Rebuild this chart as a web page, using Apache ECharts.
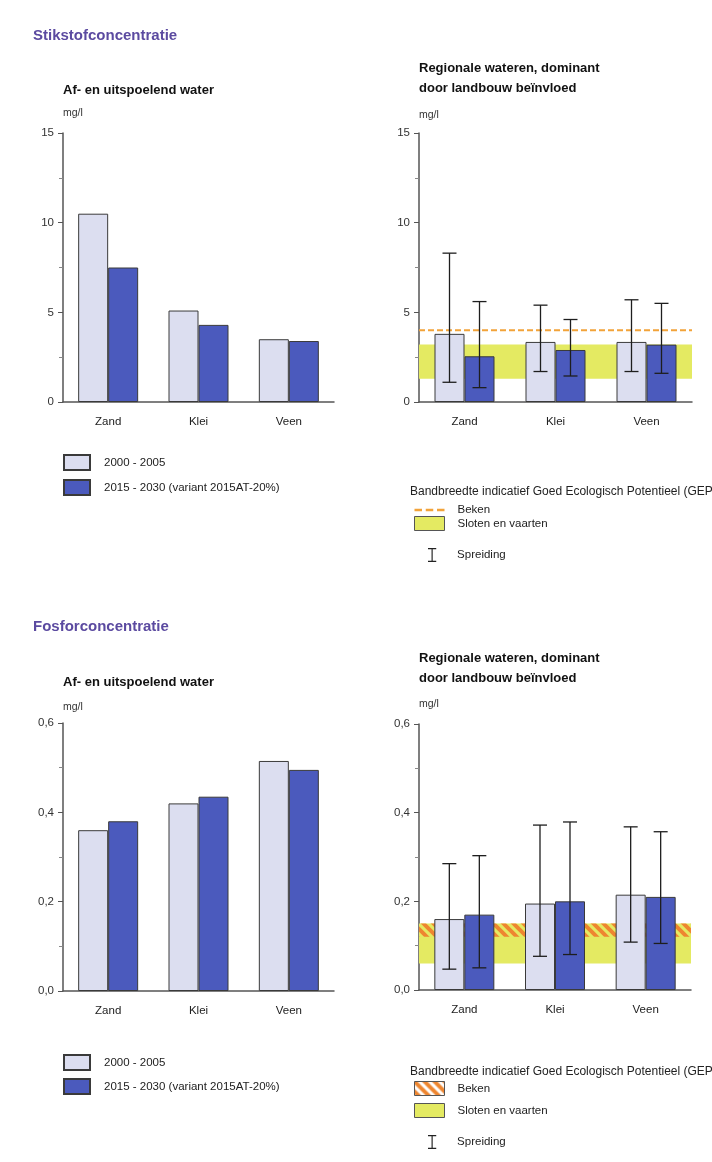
<!DOCTYPE html>
<html><head><meta charset="utf-8">
<script src="https://cdn.jsdelivr.net/npm/echarts@6/dist/echarts.min.js"></script>
<style>html,body{margin:0;padding:0;background:#fff}#c{width:712px;height:1162px}</style>
</head><body><div id="c"></div>
<script>
// ---------- data ----------
const categories = ['Zand', 'Klei', 'Veen'];
const seriesNames = ['2000 - 2005', '2015 - 2030 (variant 2015AT-20%)'];

// Stikstof (mg/l)
const nAfUit2000 = [10.5, 5.1, 3.5];
const nAfUit2015 = [7.5, 4.3, 3.4];
const nReg2000 = [3.8, 3.35, 3.35];
const nReg2015 = [2.55, 2.9, 3.2];
const nRegSpread2000 = [[1.1, 8.3], [1.7, 5.4], [1.7, 5.7]];
const nRegSpread2015 = [[0.8, 5.6], [1.45, 4.6], [1.6, 5.5]];
const nBekenLine = [4.0];
const nSlotenBand = [1.3, 3.2];
const nTicks = [0, 5, 10, 15];
const nTickLabels = ['0', '5', '10', '15'];

// Fosfor (mg/l)
const pAfUit2000 = [0.36, 0.42, 0.515];
const pAfUit2015 = [0.38, 0.435, 0.495];
const pReg2000 = [0.16, 0.195, 0.215];
const pReg2015 = [0.17, 0.2, 0.21];
const pRegSpread2000 = [[0.047, 0.285], [0.076, 0.372], [0.108, 0.368]];
const pRegSpread2015 = [[0.05, 0.303], [0.08, 0.379], [0.105, 0.357]];
const pBekenBand = [0.12, 0.15];
const pSlotenBand = [0.06, 0.15];
const pTicks = [0, 0.2, 0.4, 0.6];
const pTickLabels = ['0,0', '0,2', '0,4', '0,6'];

// ---------- styles ----------
const LIGHT = '#dcdef0';
const DARK = '#4b5abd';
const BORDER = '#3a3a3a';
const YELLOW = '#e4ea62';
const ORANGE = '#f2a33a';
const BAR_W = 30;
const CAP_W = 14;
const FONT = '"Liberation Sans", Arial, sans-serif';

function makeHatch() {
  const c = document.createElement('canvas');
  c.width = 10; c.height = 10;
  const g = c.getContext('2d');
  g.strokeStyle = '#ee8630';
  g.lineWidth = 4;
  g.beginPath();
  g.moveTo(-2, -2); g.lineTo(12, 12);
  g.moveTo(-7, 3); g.lineTo(7, 17);
  g.moveTo(3, -7); g.lineTo(17, 7);
  g.stroke();
  return c;
}
const hatch = { image: makeHatch(), repeat: 'repeat' };

function tickFmt(ticks, labels) {
  return function (v) {
    for (let i = 0; i < ticks.length; i++) if (Math.abs(ticks[i] - v) < 1e-9) return labels[i];
    return '';
  };
}

const grids = [
  { left: 63, top: 133, width: 271, height: 269 },
  { left: 419, top: 133, width: 273, height: 269 },
  { left: 63, top: 723, width: 271, height: 268 },
  { left: 419, top: 724, width: 272, height: 266 }
];
const axisTicks = [nTicks, nTicks, pTicks, pTicks];
const axisLabels = [nTickLabels, nTickLabels, pTickLabels, pTickLabels];
const nameGaps = [14, 12, 10, 14];

const xAxes = grids.map((g, i) => ({
  type: 'category', gridIndex: i, data: categories,
  axisTick: { show: false },
  axisLine: { lineStyle: { color: '#555', width: 1.5 } },
  axisLabel: { color: '#222', fontSize: 11.5, margin: 14, fontFamily: FONT }
}));
const yAxes = grids.map((g, i) => {
  const t = axisTicks[i];
  return {
    type: 'value', gridIndex: i,
    min: t[0], max: t[t.length - 1], interval: t[1] - t[0],
    name: 'mg/l', nameLocation: 'end', nameGap: nameGaps[i],
    nameTextStyle: { align: 'left', fontSize: 10.5, color: '#333', fontFamily: FONT },
    axisLine: { show: true, lineStyle: { color: '#555', width: 1.5 } },
    axisTick: { show: true, length: 5, lineStyle: { color: '#555' } },
    minorTick: { show: true, splitNumber: 2, length: 4, lineStyle: { color: '#888' } },
    splitLine: { show: false },
    axisLabel: { color: '#333', fontSize: 11.5, margin: 9, fontFamily: FONT, formatter: tickFmt(t, axisLabels[i]) }
  };
});

function barPair(i, a, b) {
  return [
    { name: seriesNames[0], type: 'bar', xAxisIndex: i, yAxisIndex: i, data: a, barWidth: BAR_W, barGap: '0%', z: 3,
      itemStyle: { color: LIGHT, borderColor: BORDER, borderWidth: 1 } },
    { name: seriesNames[1], type: 'bar', xAxisIndex: i, yAxisIndex: i, data: b, barWidth: BAR_W, barGap: '0%', z: 3,
      itemStyle: { color: DARK, borderColor: BORDER, borderWidth: 1 } }
  ];
}

function spreadRows(s0, s1) {
  const rows = [];
  s0.forEach((r, c) => rows.push([c, r[0], r[1], 0]));
  s1.forEach((r, c) => rows.push([c, r[0], r[1], 1]));
  return rows;
}
function renderSpread(params, api) {
  const cat = api.value(0), lo = api.value(1), hi = api.value(2), k = api.value(3);
  const pLo = api.coord([cat, lo]);
  const pHi = api.coord([cat, hi]);
  const x = pLo[0] + (k - 0.5) * BAR_W;
  const h = CAP_W / 2;
  const st = { stroke: '#1e1e1e', lineWidth: 1.3 };
  return { type: 'group', children: [
    { type: 'line', shape: { x1: x, y1: pHi[1], x2: x, y2: pLo[1] }, style: st },
    { type: 'line', shape: { x1: x - h, y1: pHi[1], x2: x + h, y2: pHi[1] }, style: st },
    { type: 'line', shape: { x1: x - h, y1: pLo[1], x2: x + h, y2: pLo[1] }, style: st }
  ] };
}
function spreadSeries(i, s0, s1) {
  return { name: 'Spreiding', type: 'custom', xAxisIndex: i, yAxisIndex: i, z: 5,
    data: spreadRows(s0, s1), encode: { x: 0, y: [1, 2] }, renderItem: renderSpread,
    itemStyle: { color: '#1e1e1e' } };
}
function bandSeries(i, name, band, fill, z) {
  return { name: name, type: 'custom', xAxisIndex: i, yAxisIndex: i, z: z, silent: true,
    data: [[0, band[0], band[1]]], encode: { x: 0, y: [1, 2] },
    itemStyle: { color: fill === hatch ? ORANGE : fill },
    renderItem: function (params, api) {
      const cs = params.coordSys;
      const y0 = api.coord([0, api.value(1)])[1];
      const y1 = api.coord([0, api.value(2)])[1];
      return { type: 'rect', shape: { x: cs.x, y: y1, width: cs.width, height: y0 - y1 }, style: { fill: fill } };
    } };
}
function lineSeries(i, name, vals) {
  return { name: name, type: 'custom', xAxisIndex: i, yAxisIndex: i, z: 2, silent: true,
    data: vals.map(v => [0, v]), encode: { x: 0, y: 1 }, itemStyle: { color: ORANGE },
    renderItem: function (params, api) {
      const cs = params.coordSys;
      const y = api.coord([0, api.value(1)])[1];
      return { type: 'line', shape: { x1: cs.x, y1: y, x2: cs.x + cs.width, y2: y },
        style: { stroke: ORANGE, lineWidth: 2, lineDash: [6, 3] } };
    } };
}

const series = [].concat(
  barPair(0, nAfUit2000, nAfUit2015),
  [bandSeries(1, 'Sloten en vaarten', nSlotenBand, YELLOW, 1), lineSeries(1, 'Beken', nBekenLine)],
  barPair(1, nReg2000, nReg2015),
  [spreadSeries(1, nRegSpread2000, nRegSpread2015)],
  barPair(2, pAfUit2000, pAfUit2015),
  [bandSeries(3, 'Sloten en vaarten', pSlotenBand, YELLOW, 1), bandSeries(3, 'Beken', pBekenBand, hatch, 2)],
  barPair(3, pReg2000, pReg2015),
  [spreadSeries(3, pRegSpread2000, pRegSpread2015)]
);

const dashIcon = 'path://M0,0h6v2h-6zM9,0h6v2h-6zM18,0h6v2h-6z';
const iIcon = 'path://M0,0h10v1.5h-4.3v14h4.3v1.5h-10v-1.5h4.3v-14h-4.3z';
const legText = { fontSize: 11.5, color: '#222', fontFamily: FONT };

function barLegend(top, gap) {
  return { data: seriesNames, left: 63, top: top, orient: 'vertical', icon: 'rect', padding: 0,
    itemWidth: 26, itemHeight: 15, itemGap: gap, textStyle: Object.assign({ padding: [0, 0, 0, 9] }, legText) };
}
function gepLegend(top, gap, bekenItem) {
  return { data: [bekenItem, { name: 'Sloten en vaarten', icon: 'rect', itemStyle: { color: YELLOW, borderColor: '#555', borderWidth: 1 } }],
    left: 414, top: top, orient: 'vertical', padding: 0, itemWidth: 30, itemHeight: 14, itemGap: gap,
    textStyle: Object.assign({ padding: [0, 0, 0, 8] }, legText) };
}
function spreadLegend(top) {
  return { data: [{ name: 'Spreiding', icon: iIcon, itemStyle: { color: '#222', borderWidth: 0 } }],
    left: 428, top: top, orient: 'vertical', padding: 0, itemWidth: 10, itemHeight: 14,
    textStyle: Object.assign({ padding: [0, 0, 0, 15] }, legText) };
}

const heading = { color: '#5b4aa0', fontSize: 15, fontWeight: 'bold', fontFamily: FONT };
const sub = { color: '#111', fontSize: 13, fontWeight: 'bold', fontFamily: FONT, lineHeight: 20 };
const gepT = { color: '#222', fontSize: 12, fontWeight: 'normal', fontFamily: FONT };

const option = {
  animation: false,
  backgroundColor: '#fff',
  textStyle: { fontFamily: FONT },
  title: [
    { text: 'Stikstofconcentratie', left: 33, top: 28, padding: 0, textStyle: heading },
    { text: 'Af- en uitspoelend water', left: 63, top: 80, padding: 0, textStyle: sub },
    { text: 'Regionale wateren, dominant\ndoor landbouw beïnvloed', left: 419, top: 58, padding: 0, textStyle: sub },
    { text: 'Bandbreedte indicatief Goed Ecologisch Potentieel (GEP)', left: 410, top: 486, padding: 0, textStyle: gepT },
    { text: 'Fosforconcentratie', left: 33, top: 619, padding: 0, textStyle: heading },
    { text: 'Af- en uitspoelend water', left: 63, top: 672, padding: 0, textStyle: sub },
    { text: 'Regionale wateren, dominant\ndoor landbouw beïnvloed', left: 419, top: 648, padding: 0, textStyle: sub },
    { text: 'Bandbreedte indicatief Goed Ecologisch Potentieel (GEP)', left: 410, top: 1066, padding: 0, textStyle: gepT }
  ],
  legend: [
    barLegend(454, 8),
    barLegend(1054, 7),
    gepLegend(504, 0, { name: 'Beken', icon: dashIcon, itemStyle: { color: ORANGE, borderWidth: 0 } }),
    spreadLegend(548),
    gepLegend(1081, 7, { name: 'Beken', icon: 'rect', itemStyle: { color: hatch, borderColor: '#555', borderWidth: 1 } }),
    spreadLegend(1135)
  ],
  grid: grids,
  xAxis: xAxes,
  yAxis: yAxes,
  series: series
};

const chart = echarts.init(document.getElementById('c'), null, { renderer: 'canvas' });
chart.setOption(option);
</script>
</body></html>
